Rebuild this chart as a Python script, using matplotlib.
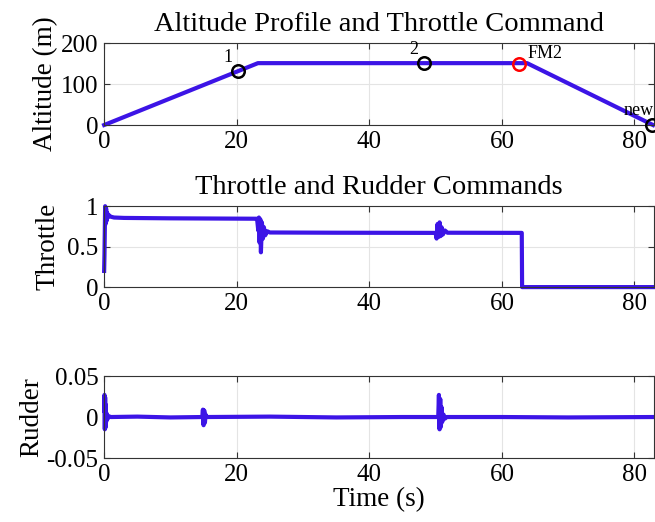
import matplotlib
matplotlib.use("Agg")
import matplotlib.pyplot as plt

plt.rcParams["font.family"] = ["Liberation Serif", "DejaVu Serif"]
plt.rcParams["mathtext.fontset"] = "stix"

LINE = "#3c14e6"

# altitude profile (s, m)
alt_t = [0.0, 23.2, 63.8, 82.8]
alt_h = [0.0, 151.0, 151.0, 0.0]

# waypoints
wp_t = [20.2, 48.2, 62.6, 82.6]
wp_h = [131.0, 151.0, 150.0, 1.0]
wp_lbl = ["1", "2", "FM2", "new"]
wp_col = ["black", "black", "red", "black"]

# throttle command
thr_t = [0.0, 0.05, 0.15, 0.22, 0.3, 0.38, 0.45, 0.55, 0.7, 1.0, 1.5, 3.0,
         10.0, 23.0, 23.1, 23.25, 23.35, 23.45, 23.55, 23.65, 23.8, 23.95,
         24.1, 24.3, 24.6, 25.0, 35.0, 50.0, 50.15, 50.3, 50.45, 50.6,
         50.75, 50.9, 51.1, 51.4, 51.8, 63.0, 63.05, 83.0]
thr_v = [0.2, 0.4, 1.0, 0.78, 0.97, 0.82, 0.92, 0.86, 0.89, 0.87, 0.86, 0.855,
         0.85, 0.845, 0.82, 0.7, 0.86, 0.55, 0.84, 0.43, 0.8, 0.6, 0.74,
         0.64, 0.69, 0.675, 0.672, 0.67, 0.6, 0.78, 0.62, 0.8, 0.63, 0.74,
         0.65, 0.7, 0.672, 0.67, 0.0, 0.0]

# rudder command
rud_t = [0.0, 0.05, 0.1, 0.15, 0.2, 0.25, 0.3, 0.4, 0.55, 0.7, 1.0, 5.0,
         10.0, 14.8, 14.9, 15.0, 15.1, 15.2, 15.3, 15.5, 25.0, 35.0, 45.0,
         50.4, 50.5, 50.6, 50.7, 50.8, 50.9, 51.0, 51.2, 51.4, 51.7,
         60.0, 70.0, 83.0]
rud_v = [0.008, 0.027, -0.015, 0.024, -0.013, 0.015, -0.006, 0.004, -0.002,
         0.001, 0.0, 0.0005, -0.0005, 0.0, 0.009, -0.01, 0.008, -0.007,
         0.003, 0.0, 0.0005, -0.0005, 0.0, 0.0, 0.027, -0.015, 0.022,
         -0.012, 0.012, -0.006, 0.003, -0.002, 0.0, 0.0, -0.0005, 0.0]

xticks = [0, 20, 40, 60, 80]

fig = plt.figure(figsize=(6.55, 5.22), dpi=100)
left, width = 0.159, 0.840
ax1 = fig.add_axes([left, 0.7605, width, 0.157])
ax2 = fig.add_axes([left, 0.450, width, 0.155])
ax3 = fig.add_axes([left, 0.1226, width, 0.157])


def style(ax):
    ax.set_xlim(0, 83)
    ax.set_xticks(xticks)
    ax.grid(True, color="#e4e4e4", lw=0.8)
    ax.set_axisbelow(True)
    ax.tick_params(direction="in", top=True, right=True, labelsize=18,
                   length=4, color="#333333", pad=4)
    for s in ax.spines.values():
        s.set_color("#333333")
        s.set_linewidth(0.8)


ax1.plot(alt_t, alt_h, color=LINE, lw=3, clip_on=False)
for t, h, lbl, c in zip(wp_t, wp_h, wp_lbl, wp_col):
    ax1.plot(t, h, "o", ms=9, mfc="none", mec=c, mew=1.8, clip_on=False, zorder=5)
    if lbl == "new":
        ax1.text(t + 0.3, h + 14, lbl, fontsize=13, ha="right", va="bottom")
    elif lbl == "FM2":
        ax1.text(t + 1.2, h + 4, lbl, fontsize=13, ha="left", va="bottom")
    else:
        ax1.text(t - 0.8, h + 12, lbl, fontsize=13, ha="right", va="bottom")
ax1.set_ylim(0, 200)
ax1.set_yticks([0, 100, 200])
ax1.set_ylabel("Altitude (m)", fontsize=19.5, labelpad=2)
ax1.set_title("Altitude Profile and Throttle Command", fontsize=20.5, pad=9)
style(ax1)

ax2.plot(thr_t, thr_v, color=LINE, lw=3, clip_on=False)
ax2.set_ylim(0, 1)
ax2.set_yticks([0, 0.5, 1])
ax2.set_yticklabels(["0", "0.5", "1"])
ax2.set_ylabel("Throttle", fontsize=19.5, labelpad=5)
ax2.set_title("Throttle and Rudder Commands", fontsize=20.5, pad=9)
style(ax2)

ax3.plot(rud_t, rud_v, color=LINE, lw=3, clip_on=False)
ax3.set_ylim(-0.05, 0.05)
ax3.set_yticks([-0.05, 0, 0.05])
ax3.set_yticklabels(["-0.05", "0", "0.05"])
ax3.set_ylabel("Rudder", fontsize=19.5, labelpad=2)
ax3.set_xlabel("Time (s)", fontsize=19.5, labelpad=1)
style(ax3)

fig.savefig("out.png", dpi=100)
